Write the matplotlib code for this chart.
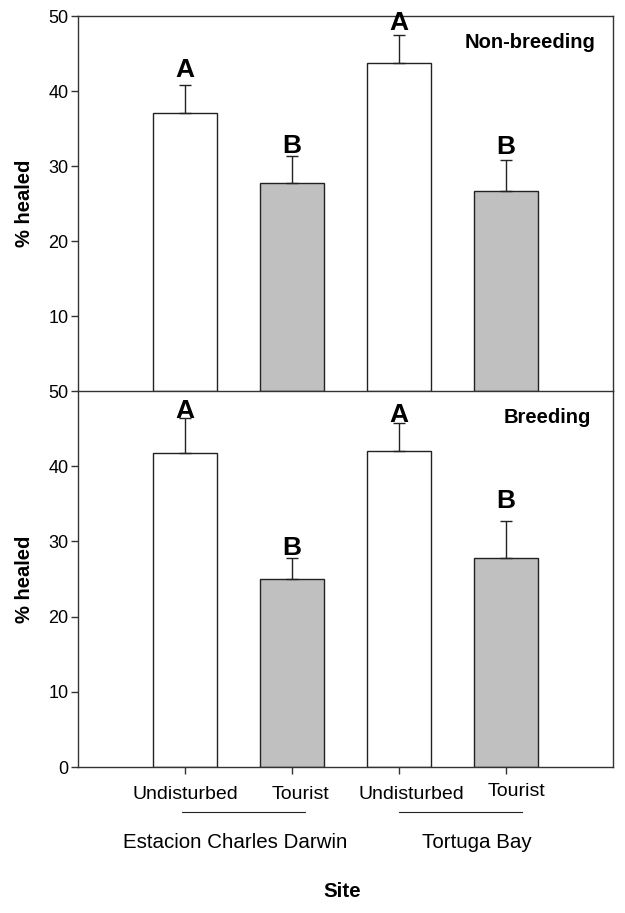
import matplotlib.pyplot as plt

plt.rcParams['font.family'] = ['Liberation Sans', 'DejaVu Sans']

# data
treatments = ["Undisturbed", "Tourist", "Undisturbed", "Tourist"]
sites = ["Estacion Charles Darwin", "Tortuga Bay"]
letters = ["A", "B", "A", "B"]

nonbreeding_mean = [37.1, 27.7, 43.8, 26.7]
nonbreeding_se = [3.7, 3.7, 3.7, 4.1]
breeding_mean = [41.7, 25.0, 42.0, 27.8]
breeding_se = [4.7, 2.8, 3.7, 4.9]

x = [1, 2, 3, 4]
colors = ["white", "#c0c0c0", "white", "#c0c0c0"]
edge = "#222222"
spine_c = "#333333"

# gap between error bar and letter (data units), as laid out in the figure
gap_top = [1.05, 0.4, 0.65, 0.8]
gap_bottom = [0.0, 0.4, 0.15, 1.7]

fig = plt.figure(figsize=(6.25, 9.13), dpi=100)
ax1 = fig.add_axes([0.1248, 0.5717, 0.856, 0.4107])
ax2 = fig.add_axes([0.1248, 0.1599, 0.856, 0.4118])


def draw(ax, means, errs, gaps, title, title_x, yticks):
    ax.bar(x, means, width=0.6, color=colors, edgecolor=edge, linewidth=1.0, zorder=2)
    ax.errorbar(x, means, yerr=[[0] * 4, errs], fmt="none", ecolor=edge,
                elinewidth=1.0, capsize=4, capthick=1.0, zorder=3)
    for xi, m, e, g, l in zip(x, means, errs, gaps, letters):
        ax.text(xi, m + e + g, l, ha="center", va="baseline",
                fontsize=19, fontweight="bold", clip_on=False, zorder=4)
    ax.set_xlim(0, 5)
    ax.set_ylim(0, 50)
    ax.set_yticks(yticks)
    ax.tick_params(axis="y", direction="out", length=5, width=1, color=spine_c,
                   labelsize=13, pad=2)
    for s in ax.spines.values():
        s.set_color(spine_c)
        s.set_linewidth(1.0)
    ax.set_ylabel("% healed", fontsize=14.5, fontweight="bold", labelpad=10)
    ax.text(title_x, 0.93, title, transform=ax.transAxes, ha="right", va="center",
            fontsize=14.5, fontweight="bold")


draw(ax1, nonbreeding_mean, nonbreeding_se, gap_top, "Non-breeding", 0.968,
     [10, 20, 30, 40, 50])
ax1.set_xticks([])
ax1.spines["bottom"].set_visible(False)

draw(ax2, breeding_mean, breeding_se, gap_bottom, "Breeding", 0.958,
     [0, 10, 20, 30, 40, 50])
ax2.set_xticks(x)
ax2.set_xticklabels([])
ax2.tick_params(axis="x", direction="out", length=5, width=1, color=spine_c)

# treatment labels under the ticks
label_x = [1.0, 2.08, 3.12, 4.1]
label_y = [-3.6, -3.6, -3.6, -3.3]
for lx, ly, t in zip(label_x, label_y, treatments):
    ax2.text(lx, ly, t, ha="center", va="center", fontsize=14, clip_on=False)

# lines grouping treatments by site
ax2.plot([0.97, 2.12], [-6.0, -6.0], color=edge, linewidth=0.8, clip_on=False)
ax2.plot([3.0, 4.15], [-6.0, -6.0], color=edge, linewidth=0.8, clip_on=False)

site_x = [1.47, 3.73]
for sx, s in zip(site_x, sites):
    ax2.text(sx, -10.1, s, ha="center", va="center", fontsize=14.8, clip_on=False)

ax2.text(2.47, -16.5, "Site", ha="center", va="center", fontsize=14.8,
         fontweight="bold", clip_on=False)

fig.savefig("out.png", dpi=100)
